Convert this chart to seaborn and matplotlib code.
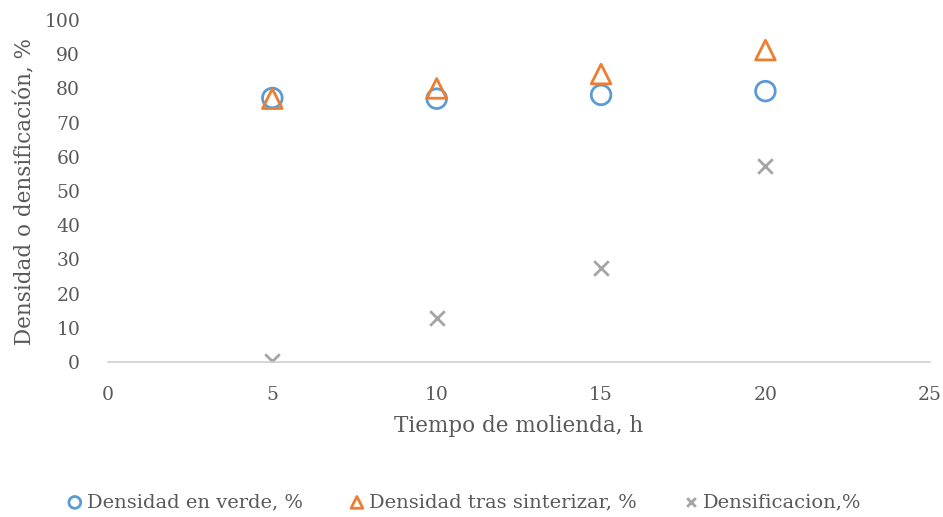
import pandas as pd
import matplotlib.pyplot as plt
import seaborn as sns

# Data
tiempo = [5, 10, 15, 20]
densidad_verde = [77.2, 77.0, 78.1, 79.2]
densidad_sinterizar = [77.0, 80.0, 84.2, 91.2]
densificacion = [0.2, 12.9, 27.5, 57.3]

series = [
    ("Densidad en verde, %", densidad_verde, "o", "#5B9BD5"),
    ("Densidad tras sinterizar, %", densidad_sinterizar, "^", "#ED7D31"),
    ("Densificacion,%", densificacion, "x", "#A5A5A5"),
]

sns.set_style("white")
plt.rcParams['font.family'] = ['DejaVu Serif']

fig = plt.figure(figsize=(9.43, 5.17), dpi=100)
ax = fig.add_axes([0.1145, 0.2998, 0.8715, 0.6615])

for name, vals, mk, col in series:
    df = pd.DataFrame({"Tiempo": tiempo, "Valor": vals})
    if mk == "x":
        sns.scatterplot(data=df, x="Tiempo", y="Valor", ax=ax, marker=mk,
                        color=col, s=110, linewidth=2, label=name)
    else:
        sns.scatterplot(data=df, x="Tiempo", y="Valor", ax=ax, marker=mk,
                        facecolors="none", edgecolor=col, s=200, linewidth=2,
                        label=name)

ax.set_xlim(0, 25)
ax.set_ylim(0, 100)
ax.set_xticks(range(0, 26, 5))
ax.set_yticks(range(0, 101, 10))
for s in ["top", "right", "left"]:
    ax.spines[s].set_visible(False)
ax.spines["bottom"].set_color("#D0D0D0")
ax.spines["bottom"].set_linewidth(1.2)
ax.tick_params(axis="both", length=0, labelsize=13.5, colors="#595959")
ax.tick_params(axis="x", pad=17)
ax.tick_params(axis="y", pad=20)
ax.set_xlabel("Tiempo de molienda, h", fontsize=15.5, color="#595959", labelpad=8)
ax.set_ylabel("Densidad o densificación, %", fontsize=15.5, color="#595959", labelpad=6)

handles, labels = ax.get_legend_handles_labels()
ax.get_legend().remove()
leg = fig.legend(handles, labels, loc="center", bbox_to_anchor=(0.49, 0.028),
                 ncol=3, frameon=False, fontsize=14, handletextpad=0.0,
                 columnspacing=2.2, handlelength=1.2, markerscale=0.6)
for t in leg.get_texts():
    t.set_color("#595959")

fig.savefig("out.png", dpi=100)
